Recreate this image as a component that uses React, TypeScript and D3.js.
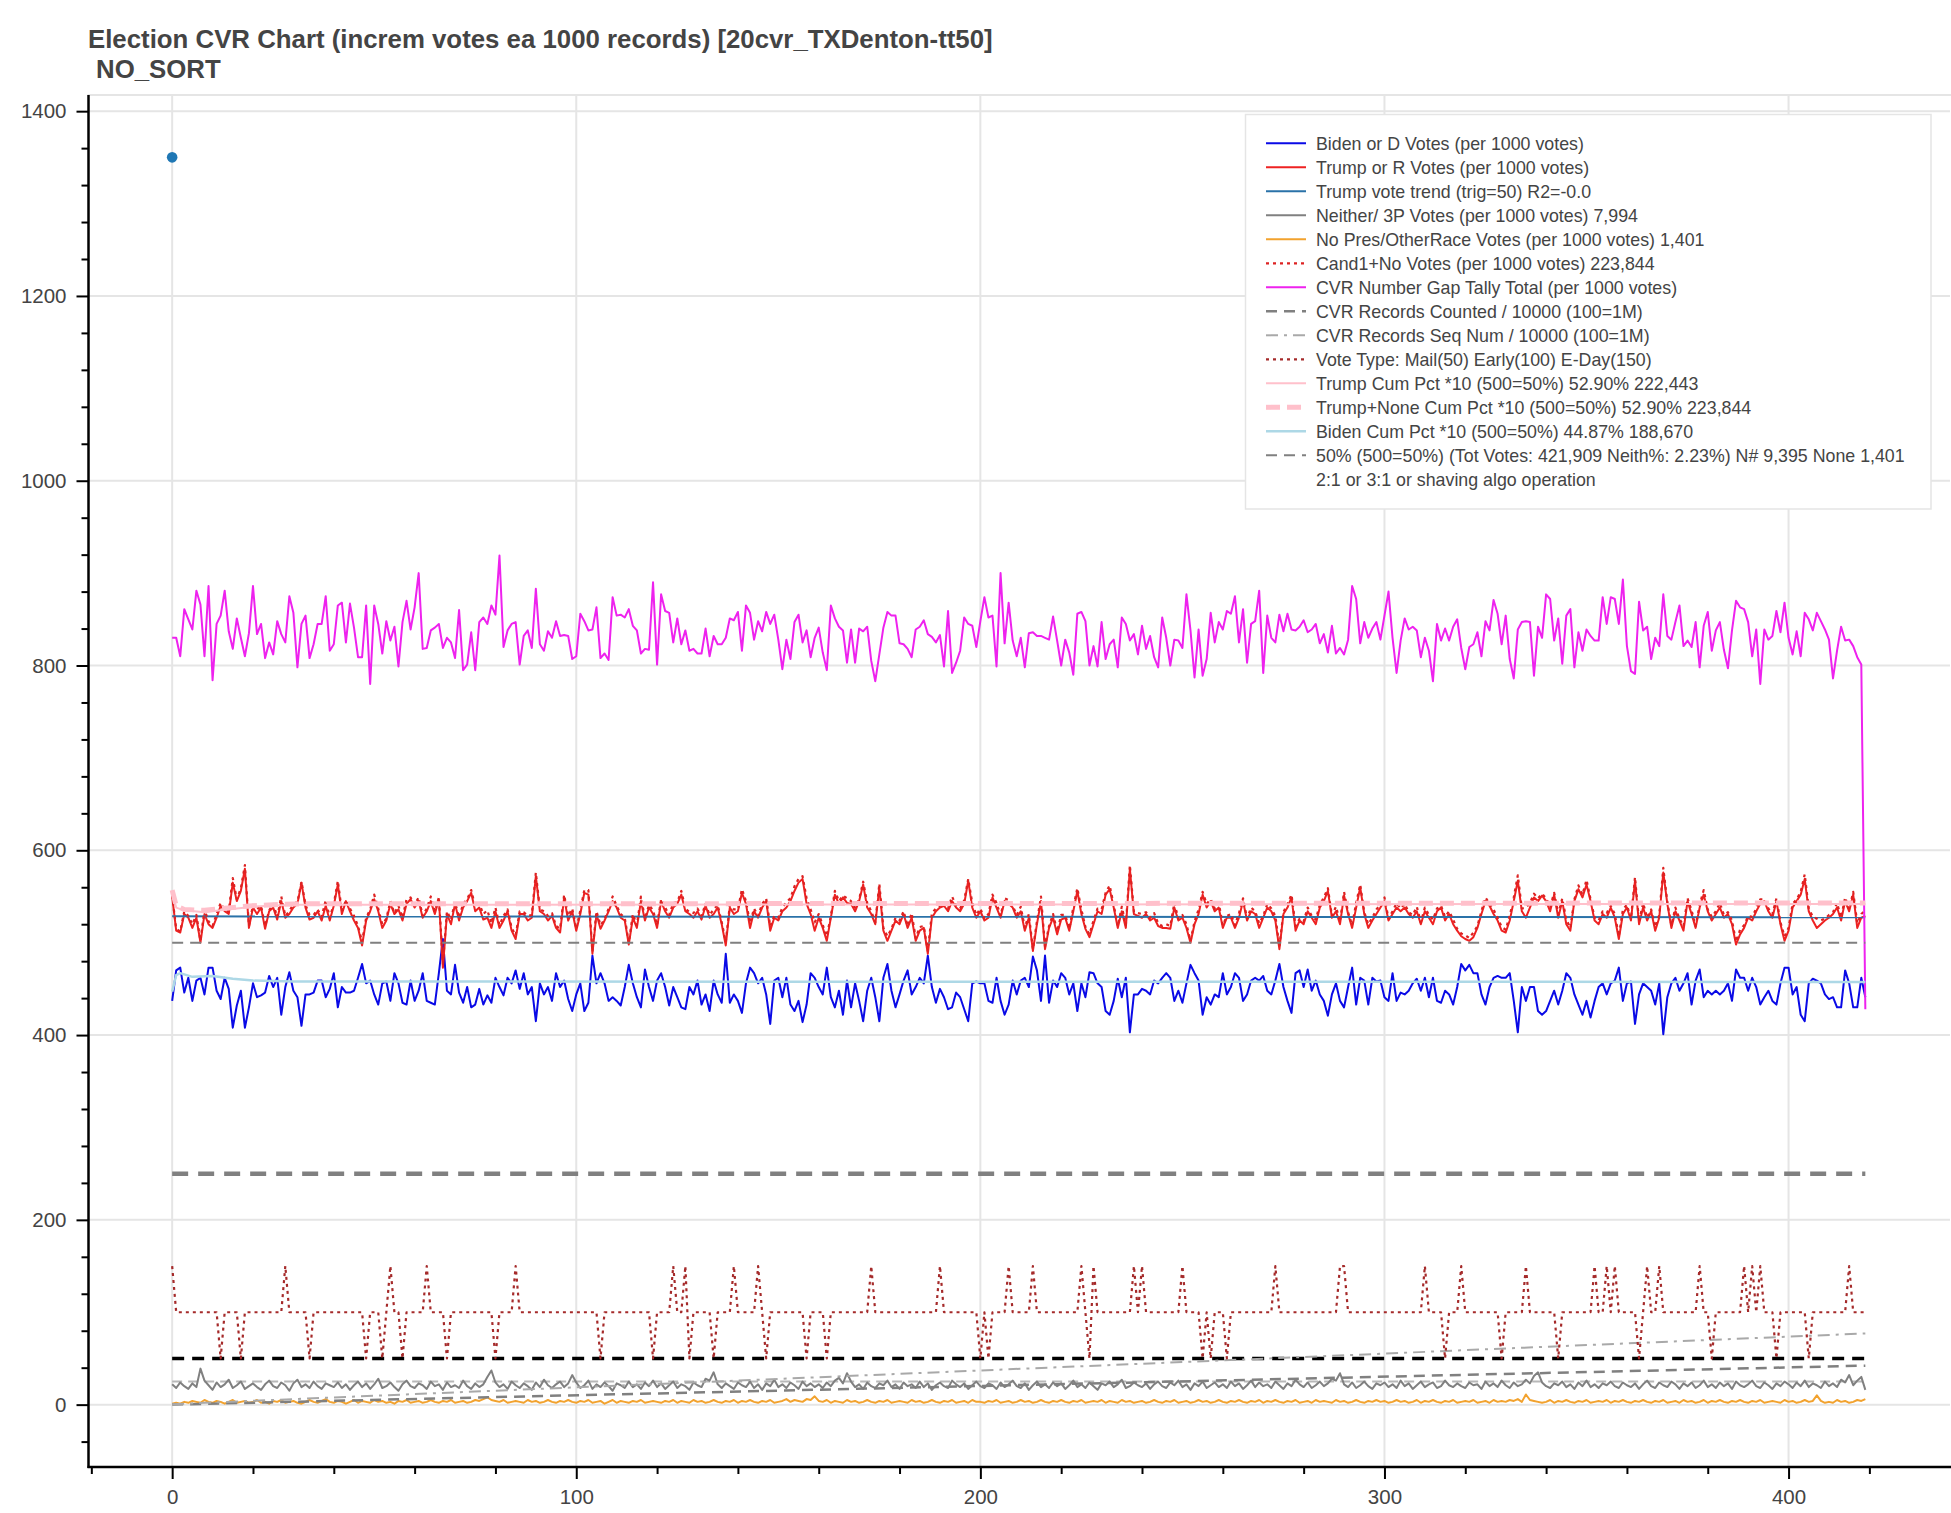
import { useEffect, useRef } from "react";
import * as d3 from "d3";

const W = 1951;
const H = 1513;
const FONT = "Liberation Sans, Arial, Helvetica, sans-serif";

const titleLines = [
  "Election CVR Chart (increm votes ea 1000 records) [20cvr_TXDenton-tt50]",
  "NO_SORT",
];

// CVR number gap tally (magenta), one value per 1000-record chunk
const gapTally = [
  830, 830, 810, 861, 850, 839, 881, 866, 810, 886,
  784, 845, 854, 881, 837, 818, 851, 830, 810, 835,
  886, 834, 845, 808, 825, 812, 848, 834, 825, 875,
  857, 798, 845, 854, 808, 823, 845, 845, 875, 816,
  823, 865, 868, 825, 867, 841, 809, 809, 865, 780,
  865, 845, 813, 848, 827, 842, 799, 847, 870, 839,
  863, 900, 818, 819, 838, 841, 845, 819, 830, 825,
  808, 860, 795, 801, 836, 795, 847, 852, 845, 865,
  855, 919, 820, 838, 845, 847, 801, 832, 838, 819,
  883, 823, 816, 837, 830, 848, 832, 833, 832, 807,
  810, 856, 848, 838, 839, 863, 808, 813, 806, 874,
  854, 855, 852, 861, 843, 838, 813, 818, 817, 890,
  801, 877, 859, 857, 825, 851, 823, 838, 816, 818,
  813, 813, 840, 810, 832, 823, 823, 830, 851, 849,
  858, 816, 865, 857, 828, 848, 837, 858, 845, 855,
  828, 796, 828, 807, 847, 855, 825, 838, 809, 830,
  841, 814, 795, 865, 851, 842, 838, 803, 839, 803,
  840, 837, 842, 805, 783, 812, 841, 858, 854, 854,
  824, 823, 818, 809, 839, 842, 849, 834, 831, 825,
  833, 799, 859, 792, 803, 816, 852, 845, 843, 820,
  848, 874, 852, 854, 799, 900, 824, 868, 827, 810,
  830,
  798, 835, 836, 832, 832, 830, 828, 853, 827, 800,
  828, 814, 790, 856, 858, 848, 800, 821, 799, 847,
  807, 823, 828, 798, 852, 845, 827, 834, 812, 843,
  818, 832, 809, 798, 852, 830, 800, 828, 827, 819,
  877, 838, 787, 839, 789, 807, 857, 825, 847, 839,
  859, 856, 875, 825, 861, 803, 845, 848, 881, 792,
  854, 830, 825, 855, 837, 856, 839, 838, 842, 849,
  836, 839, 845, 824, 834, 814, 843, 813, 819, 812,
  828, 886, 872, 824, 847, 830, 840, 847, 828, 854,
  880, 830, 792, 827, 851, 839, 842, 838, 809, 830,
  816, 783, 845, 827, 840, 827, 842, 850, 819, 796,
  820, 823, 836, 810, 848, 838, 871, 856, 823, 854,
  807, 786, 839, 847, 848, 847, 789, 842, 830, 877,
  872, 827, 851, 802, 854, 861, 798, 836, 816, 839,
  832, 827, 827, 874, 845, 874, 872, 845, 893, 821,
  794, 791, 869, 838, 842, 807, 830, 821, 877, 832,
  828, 847, 865, 821, 827, 820, 847, 798, 843, 858,
  816, 838, 847, 817, 797, 838, 870, 863, 861, 847,
  810, 839, 780, 839, 828, 832, 859, 836, 868, 830,
  812, 837, 810, 857, 850, 838, 857, 848, 839, 828,
  786, 816, 842, 827, 828, 821, 809, 801,
  428,
];

// Trump or R votes per 1000 votes
const trumpVotes = [
  550, 513, 511, 531, 527, 516, 527, 500, 531, 520,
  516, 527, 540, 534, 531, 565, 545, 556, 580, 516,
  538, 531, 538, 515, 534, 538, 525, 545, 527, 531,
  538, 542, 565, 538, 525, 527, 534, 524, 540, 524,
  540, 563, 531, 545, 534, 524, 516, 497, 524, 534,
  547, 534, 516, 524, 542, 531, 536, 524, 542, 547,
  538, 545, 527, 534, 545, 531, 547, 473, 531, 520,
  542, 524, 538, 545, 554, 534, 538, 525, 527, 516,
  534, 516, 524, 534, 513, 504, 531, 531, 524, 527,
  572, 534, 531, 524, 529, 516, 511, 549, 524, 534,
  513, 531, 554, 552, 488, 531, 515, 524, 534, 545,
  538, 527, 524, 498, 527, 516, 545, 524, 538, 531,
  516, 545, 534, 527, 538, 542, 552, 534, 531, 527,
  534, 525, 540, 527, 531, 538, 520, 497, 538, 531,
  534, 554, 542, 516, 534, 527, 538, 545, 513, 527,
  524, 534, 538, 545, 556, 565, 569, 542, 531, 513,
  527, 516, 502, 527, 552, 542, 549, 543, 542, 534,
  545, 563, 538, 531, 520, 560, 513, 502, 513, 524,
  520, 531, 516, 527, 502, 513, 516, 488, 527, 534,
  538, 540, 534, 545, 538, 534, 542, 567, 538, 527,
  534, 524, 527, 549, 538, 527, 545, 542, 538, 527,
  534,
  513, 527, 491, 520, 545, 493, 516, 527, 509, 525,
  527, 513, 534, 556, 531, 515, 506, 520, 534, 531,
  552, 558, 538, 516, 534, 516, 580, 531, 529, 527,
  531, 524, 527, 518, 516, 516, 515, 538, 524, 527,
  516, 500, 520, 531, 552, 538, 545, 534, 538, 516,
  527, 527, 516, 527, 545, 524, 534, 531, 516, 527,
  538, 534, 524, 493, 531, 538, 549, 513, 524, 520,
  534, 527, 520, 538, 545, 556, 527, 534, 520, 551,
  531, 516, 538, 560, 531, 516, 524, 531, 538, 545,
  524, 531, 538, 534, 538, 531, 527, 534, 520, 534,
  527, 520, 534, 538, 524, 531, 520, 513, 507, 504,
  502, 506, 516, 531, 545, 540, 531, 524, 513, 511,
  524, 545, 567, 534, 527, 538, 549, 545, 551, 545,
  534, 552, 527, 545, 520, 513, 545, 558, 549, 563,
  545, 524, 520, 531, 527, 538, 527, 504, 531, 538,
  524, 567, 520, 538, 524, 534, 513, 527, 576, 542,
  516, 534, 524, 513, 545, 531, 516, 538, 552, 534,
  524, 531, 538, 527, 531, 520, 498, 509, 516, 527,
  524, 534, 542, 545, 534, 527, 545, 520, 502, 513,
  538, 545, 552, 569, 534, 524, 516, 520, 524, 527,
  531, 538, 524, 545, 534, 552, 516, 527,
  529,
];

// Biden or D votes per 1000 votes
const bidenVotes = [
  437, 470, 473, 446, 462, 437, 459, 462, 444, 473,
  473, 448, 439, 462, 450, 408, 432, 448, 408, 430,
  456, 441, 443, 446, 464, 452, 462, 422, 452, 468,
  448, 441, 410, 444, 444, 446, 459, 459, 441, 450,
  467, 430, 452, 446, 446, 448, 462, 477, 456, 459,
  444, 433, 456, 458, 437, 467, 456, 435, 433, 459,
  437, 448, 467, 437, 435, 433, 467, 504, 448, 444,
  476, 446, 435, 452, 430, 433, 450, 433, 443, 435,
  462, 452, 443, 462, 456, 470, 450, 467, 444, 452,
  415, 456, 444, 452, 437, 467, 452, 459, 439, 426,
  444, 456, 426, 435, 486, 456, 467, 456, 437, 441,
  437, 432, 452, 476, 456, 441, 430, 471, 452, 437,
  459, 467, 452, 432, 452, 441, 430, 428, 452, 444,
  459, 433, 444, 426, 459, 444, 435, 488, 435, 444,
  437, 424, 456, 473, 467, 456, 462, 444, 412, 459,
  462, 441, 462, 433, 426, 437, 414, 433, 467, 462,
  452, 444, 473, 441, 430, 448, 422, 459, 430, 456,
  437, 415, 448, 462, 441, 415, 462, 477, 448, 430,
  444, 459, 470, 444, 452, 462, 456, 486, 452, 435,
  450, 441, 428, 430, 446, 441, 428, 415, 456, 458,
  456, 456, 437, 435, 462, 437, 422, 433, 459, 444,
  459,
  462, 452, 485, 470, 437, 486, 435, 459, 452, 467,
  462, 444, 456, 426, 456, 441, 468, 467, 456, 452,
  426, 422, 437, 461, 441, 462, 403, 444, 444, 450,
  448, 444, 459, 456, 462, 467, 462, 437, 448, 435,
  456, 476, 467, 459, 422, 441, 433, 444, 441, 467,
  444, 452, 467, 462, 437, 444, 459, 462, 459, 464,
  448, 444, 459, 477, 452, 437, 424, 467, 470, 452,
  471, 448, 459, 444, 437, 421, 444, 456, 437, 430,
  452, 473, 433, 462, 459, 433, 462, 458, 459, 441,
  437, 467, 437, 446, 444, 448, 456, 461, 448, 462,
  441, 462, 437, 435, 448, 444, 433, 452, 477, 470,
  476, 467, 467, 444, 433, 452, 462, 464, 462, 462,
  467, 437, 403, 452, 437, 452, 452, 426, 422, 426,
  437, 448, 433, 448, 467, 462, 444, 433, 422, 437,
  419, 437, 452, 456, 444, 456, 459, 473, 437, 456,
  458, 412, 444, 456, 452, 448, 433, 456, 401, 441,
  456, 462, 448, 456, 467, 433, 459, 471, 441, 448,
  444, 448, 444, 448, 456, 437, 471, 462, 462, 448,
  462, 452, 433, 441, 448, 437, 433, 456, 473, 473,
  444, 452, 422, 415, 456, 461, 459, 456, 444, 439,
  441, 430, 430, 470, 456, 430, 430, 462,
  441,
];

// Neither / 3P votes per 1000 votes
const neitherVotes = [
  22, 18, 24, 20, 17, 23, 19, 39, 26, 21, 16, 24, 19, 22, 27, 18, 21, 25, 17, 20,
  23, 19, 16, 22, 26, 20, 18, 24, 21, 15, 23, 27, 19, 22, 18, 25, 20, 17, 23, 21,
  19, 24, 18, 22, 16, 21, 25, 19, 23, 17, 22, 28, 18, 20, 24, 19, 15, 22, 26, 20,
  18, 23, 21, 17, 25, 20, 22, 16, 24, 19, 21, 18, 26, 20, 17, 23, 19, 22, 30, 37,
  24, 19, 22, 17, 25, 21, 18, 23, 20, 16, 24, 19, 27, 21, 18, 22, 25, 19, 23, 32,
  24, 18, 21, 26, 17, 22, 19, 24, 20, 15, 23, 21, 18, 25, 19, 22, 17, 24, 20, 26,
  19, 23, 17, 21, 25, 18, 22, 20, 16, 24, 21, 19, 28, 26, 35, 22, 18, 23, 20, 17,
  24, 21, 19, 25, 18, 22, 16, 23, 20, 27, 19, 22, 18, 24, 21, 17, 25, 20, 23, 19,
  22, 18, 24, 20, 26, 29, 23, 34, 25, 19, 22, 17, 24, 20, 18, 23, 21, 26, 19, 22,
  17, 24, 20, 22, 18, 25, 19, 23, 16, 21, 24, 20, 18, 26, 22, 19, 23, 17, 21, 25,
  20, 18, 23, 21, 17, 24, 19, 22, 26, 20, 18, 23, 16, 21, 25, 19, 22, 18, 24, 20,
  23, 17, 21, 26, 19, 22, 18, 24, 20, 16, 23, 21, 25, 19, 22, 27, 18, 20, 24, 21,
  19, 23, 17, 22, 25, 20, 18, 24, 21, 26, 19, 22, 16, 23, 20, 25, 18, 21, 24, 19,
  22, 18, 25, 20, 23, 17, 21, 26, 19, 24, 20, 22, 18, 25, 21, 17, 23, 20, 27, 22,
  19, 24, 18, 21, 25, 20, 23, 28, 26, 34, 22, 19, 24, 18, 21, 25, 20, 17, 23, 21,
  24, 19, 22, 18, 26, 20, 23, 17, 21, 25, 19, 22, 24, 18, 20, 26, 21, 19, 23, 20,
  18, 24, 21, 22, 17, 25, 20, 23, 19, 26, 21, 18, 24, 20, 22, 27, 23, 31, 35, 24,
  20, 18, 23, 21, 25, 19, 22, 17, 24, 20, 26, 19, 22, 18, 23, 21, 25, 20, 18, 24,
  21, 19, 23, 17, 22, 26, 20, 18, 24, 21, 19, 25, 22, 17, 23, 20, 24, 18, 21, 26,
  19, 22, 18, 24, 20, 23, 17, 25, 21, 19, 22, 26, 20, 18, 24, 21, 17, 23, 20, 25,
  22, 18, 24, 20, 26, 19, 23, 21, 18, 25, 20, 23, 19, 27, 24, 32, 21, 26, 30, 16,
];

// No Pres / other race votes per 1000 votes
const noPresVotes = [
  1, 2, 1, 3, 2, 4, 3, 2, 5, 3, 2, 4, 3, 1, 3, 5, 2, 3, 4, 2,
  3, 5, 2, 3, 1, 4, 3, 5, 2, 3, 4, 2, 1, 3, 5, 3, 2, 4, 6, 3,
  2, 4, 3, 1, 3, 5, 2, 4, 3, 2, 5, 3, 4, 2, 3, 1, 4, 3, 5, 2,
  3, 4, 2, 3, 5, 3, 2, 4, 3, 5, 2, 3, 4, 2, 3, 5, 4, 6, 8, 5,
  4, 3, 5, 2, 3, 4, 3, 2, 5, 3, 4, 2, 3, 5, 3, 2, 4, 3, 5, 3,
  2, 4, 3, 5, 2, 3, 4, 1, 3, 5, 2, 4, 3, 2, 4, 3, 5, 2, 3, 4,
  3, 2, 4, 3, 5, 2, 4, 3, 2, 5, 3, 4, 2, 3, 5, 3, 2, 4, 3, 5,
  2, 4, 3, 5, 3, 2, 4, 3, 5, 2, 3, 4, 6, 3, 5, 4, 3, 6, 5, 9,
  4, 3, 5, 2, 4, 3, 2, 5, 3, 4, 2, 3, 5, 3, 2, 4, 3, 5, 2, 3,
  4, 3, 2, 5, 3, 4, 2, 3, 5, 3, 2, 4, 3, 5, 2, 3, 4, 2, 5, 3,
  3, 2, 4, 3, 5, 2, 3, 4, 2, 3, 5, 3, 4, 2, 3, 5, 3, 2, 4, 3,
  5, 3, 2, 4, 3, 5, 2, 3, 4, 3, 5, 2, 4, 3, 2, 5, 3, 4, 2, 3,
  4, 2, 3, 5, 3, 2, 4, 3, 5, 2, 3, 4, 2, 3, 5, 3, 4, 2, 3, 5,
  3, 2, 4, 3, 5, 3, 2, 4, 3, 5, 2, 4, 3, 5, 3, 2, 4, 3, 5, 2,
  3, 4, 2, 5, 3, 4, 3, 2, 5, 3, 4, 2, 3, 5, 3, 2, 4, 3, 5, 3,
  4, 2, 3, 5, 3, 4, 2, 3, 5, 2, 4, 3, 5, 3, 2, 4, 3, 5, 2, 3,
  4, 3, 5, 2, 3, 4, 2, 5, 3, 4, 3, 5, 4, 6, 3, 11, 5, 4, 3, 2,
  3, 5, 2, 4, 3, 5, 3, 2, 4, 3, 5, 2, 3, 4, 3, 5, 2, 4, 3, 5,
  3, 2, 4, 3, 5, 3, 2, 4, 3, 5, 2, 3, 4, 2, 5, 3, 4, 2, 3, 5,
  2, 4, 3, 5, 3, 2, 4, 3, 5, 3, 2, 4, 3, 5, 2, 3, 4, 3, 2, 5,
  3, 4, 2, 3, 5, 3, 4, 10, 4, 2, 3, 2, 5, 3, 4, 2, 3, 5, 4, 6,
];

// Vote type: Mail(50) Early(100) E-Day(150)
const voteType = [
  150, 100, 100, 100, 100, 100, 100, 100, 100, 100, 100, 100, 50, 100, 100, 100, 100, 50, 100, 100,
  100, 100, 100, 100, 100, 100, 100, 100, 150, 100, 100, 100, 100, 100, 50, 100, 100, 100, 100, 100,
  100, 100, 100, 100, 100, 100, 100, 100, 50, 100, 100, 100, 50, 100, 150, 100, 100, 50, 100, 100,
  100, 100, 100, 150, 100, 100, 100, 100, 50, 100, 100, 100, 100, 100, 100, 100, 100, 100, 100, 100,
  50, 100, 100, 100, 100, 150, 100, 100, 100, 100, 100, 100, 100, 100, 100, 100, 100, 100, 100, 100,
  100, 100, 100, 100, 100, 100, 50, 100, 100, 100, 100, 100, 100, 100, 100, 100, 100, 100, 100, 50,
  100, 100, 100, 100, 150, 100, 100, 150, 50, 100, 100, 100, 100, 100, 50, 100, 100, 100, 100, 150,
  100, 100, 100, 100, 100, 150, 100, 50, 100, 100, 100, 100, 100, 100, 100, 100, 100, 50, 100, 100,
  100, 100, 50, 100, 100, 100, 100, 100, 100, 100, 100, 100, 100, 150, 100, 100, 100, 100, 100, 100,
  100, 100, 100, 100, 100, 100, 100, 100, 100, 100, 150, 100, 100, 100, 100, 100, 100, 100, 100, 100,
  50, 100, 50, 100, 100, 100, 100, 150, 100, 100, 100, 100, 100, 150, 100, 100, 100, 100, 100, 100,
  100, 100, 100, 100, 100, 150, 100, 50, 150, 100, 100, 100, 100, 100, 100, 100, 100, 100, 150, 100,
  150, 100, 100, 100, 100, 100, 100, 100, 100, 100, 150, 100, 100, 100, 100, 50, 100, 50, 100, 100,
  100, 50, 100, 100, 100, 100, 100, 100, 100, 100, 100, 100, 100, 150, 100, 100, 100, 100, 100, 100,
  100, 100, 100, 100, 100, 100, 100, 100, 100, 150, 150, 100, 100, 100, 100, 100, 100, 100, 100, 100,
  100, 100, 100, 100, 100, 100, 100, 100, 100, 100, 150, 100, 100, 100, 100, 50, 100, 100, 100, 150,
  100, 100, 100, 100, 100, 100, 100, 100, 100, 50, 100, 100, 100, 100, 100, 150, 100, 100, 100, 100,
  100, 100, 100, 50, 100, 100, 100, 100, 100, 100, 100, 100, 150, 100, 100, 150, 100, 150, 100, 100,
  100, 100, 100, 50, 100, 150, 100, 100, 150, 100, 100, 100, 100, 100, 100, 100, 100, 100, 150, 100,
  100, 50, 100, 100, 100, 100, 100, 100, 100, 150, 100, 150, 100, 150, 100, 100, 100, 50, 100, 100,
  100, 100, 100, 100, 100, 50, 100, 100, 100, 100, 100, 100, 100, 100, 100, 150, 100, 100, 100, 100,
];

// smooth series, given by their visible vertices (x = chunk index)
const trendX = [0, 419];
const trendVal = [528.5, 527.5];
const countedX = [0, 419];
const countedVal = [0.1, 42.2];
const seqX = [0, 419];
const seqVal = [0.5, 77];
const trumpCumX = [0, 1, 3, 8, 12, 20, 30, 419];
const trumpCumVal = [555, 538, 535, 533, 535, 539, 541, 542];
const trumpNoneCumVal = [557, 540, 536, 535, 537, 540, 542, 543];
const bidenCumX = [0, 1, 2, 5, 10, 15, 20, 30, 419];
const bidenCumVal = [447, 465, 467, 463, 464, 461, 459, 458, 457.5];
const refX = [0, 419];
const fiftyPctLevel = 500;
const ratioLevel = 250;
const mailLevel = 50;
const neitherRefLevel = 25;
const outlierX = 0;
const outlierVal = 1350;

const legendLabels = [
  "Biden or D Votes (per 1000 votes)",
  "Trump or R Votes (per 1000 votes)",
  "Trump vote trend (trig=50) R2=-0.0",
  "Neither/ 3P Votes (per 1000 votes) 7,994",
  "No Pres/OtherRace Votes (per 1000 votes) 1,401",
  "Cand1+No Votes (per 1000 votes) 223,844",
  "CVR Number Gap Tally Total (per 1000 votes)",
  "CVR Records Counted / 10000 (100=1M)",
  "CVR Records Seq Num / 10000 (100=1M)",
  "Vote Type: Mail(50) Early(100) E-Day(150)",
  "Trump Cum Pct *10 (500=50%) 52.90% 222,443",
  "Trump+None Cum Pct *10 (500=50%) 52.90% 223,844",
  "Biden Cum Pct *10 (500=50%) 44.87% 188,670",
  "50% (500=50%) (Tot Votes: 421,909 Neith%: 2.23%) N# 9,395 None 1,401",
  "2:1 or 3:1 or shaving algo operation",
];

type Style = { color: string; width: number; dash: string | null };
const legendStyles: Style[] = [
  { color: "#0a0ae6", width: 2, dash: null },
  { color: "#ee2222", width: 2, dash: null },
  { color: "#2a72a8", width: 2, dash: null },
  { color: "#808080", width: 2, dash: null },
  { color: "#f2a22e", width: 2, dash: null },
  { color: "#dd2222", width: 2.2, dash: "3 4" },
  { color: "#ee22ee", width: 2, dash: null },
  { color: "#808080", width: 2.5, dash: "11 7" },
  { color: "#a9a9a9", width: 2, dash: "12 6 3 6" },
  { color: "#a52a2a", width: 2.2, dash: "3 4" },
  { color: "#ffc0cb", width: 2, dash: null },
  { color: "#ffc0cb", width: 5, dash: "14 7" },
  { color: "#add8e6", width: 2.5, dash: null },
  { color: "#808080", width: 2, dash: "11 7" },
  { color: "none", width: 0, dash: null },
];

export default function App() {
  const ref = useRef<SVGSVGElement | null>(null);

  useEffect(() => {
    const svg = d3.select(ref.current);
    svg.selectAll("*").remove();

    const frame = { left: 87.5, right: 1950, top: 95, bottom: 1467 };
    const x = d3.scaleLinear().domain([-20.95, 439.95]).range([frame.left, frame.right]);
    const y = d3.scaleLinear().domain([-67.5, 1417.5]).range([frame.bottom, frame.top]);

    svg.append("rect").attr("width", W).attr("height", H).attr("fill", "#fff");

    // grid
    const grid = svg.append("g").attr("stroke", "#e5e5e5").attr("stroke-width", 2);
    [0, 100, 200, 300, 400].forEach(v =>
      grid.append("line").attr("x1", x(v)).attr("x2", x(v)).attr("y1", frame.top).attr("y2", frame.bottom)
    );
    d3.range(0, 1401, 200).forEach(v =>
      grid.append("line").attr("x1", frame.left).attr("x2", frame.right).attr("y1", y(v)).attr("y2", y(v))
    );
    grid.append("line").attr("x1", frame.left).attr("x2", W).attr("y1", frame.top).attr("y2", frame.top);

    const idxLine = d3.line<number>().x((_, i) => x(i)).y(d => y(d));
    const xyLine = (xs: number[], vs: number[]) =>
      d3.line<number>().x((_, i) => x(xs[i])).y(d => y(d))(vs);

    const draw = (d: string | null, s: Style) => {
      const p = svg.append("path").attr("d", d).attr("fill", "none")
        .attr("stroke", s.color).attr("stroke-width", s.width)
        .attr("stroke-linejoin", "round");
      if (s.dash) p.attr("stroke-dasharray", s.dash);
      return p;
    };

    // constant reference lines
    draw(xyLine(refX, refX.map(() => ratioLevel)), { color: "#808080", width: 4.5, dash: "16 10" });
    draw(xyLine(refX, refX.map(() => mailLevel)), { color: "#000", width: 3.5, dash: "12 8" });
    draw(xyLine(refX, refX.map(() => neitherRefLevel)), { color: "#b8b8b8", width: 2, dash: "10 6" });

    const st = legendStyles;
    draw(idxLine(bidenVotes), st[0]);
    draw(idxLine(trumpVotes), st[1]);
    draw(xyLine(trendX, trendVal), st[2]);
    draw(idxLine(neitherVotes), st[3]);
    draw(idxLine(noPresVotes), st[4]);
    // Cand1+No = Trump votes + no-pres votes (as the legend total says)
    draw(idxLine(trumpVotes.map((v, i) => v + noPresVotes[i])), st[5]);
    draw(idxLine(gapTally), st[6]);
    draw(xyLine(countedX, countedVal), st[7]);
    draw(xyLine(seqX, seqVal), st[8]);
    draw(idxLine(voteType), st[9]);
    draw(xyLine(trumpCumX, trumpCumVal), st[10]);
    draw(xyLine(trumpCumX, trumpNoneCumVal), st[11]);
    draw(xyLine(bidenCumX, bidenCumVal), st[12]);
    draw(xyLine(refX, refX.map(() => fiftyPctLevel)), st[13]);

    svg.append("circle").attr("cx", x(outlierX)).attr("cy", y(outlierVal)).attr("r", 5.3).attr("fill", "#1f77b4");

    // axes
    const styleAxis = (g: d3.Selection<SVGGElement, unknown, null, undefined>) => {
      g.select(".domain").remove();
      g.attr("font-family", FONT).attr("font-size", 20.5);
      g.selectAll("line").attr("stroke", "#000").attr("stroke-width", 2);
      g.selectAll("text").attr("fill", "#444");
    };
    const yMajor = d3.range(0, 1401, 200);
    const yMinor = d3.range(-40, 1401, 40).filter(v => v % 200 !== 0);
    const xMajor = [0, 100, 200, 300, 400];
    const xMinor = d3.range(-20, 421, 20).filter(v => v % 100 !== 0);

    const axX = frame.left + 1;
    svg.append("g").attr("transform", `translate(${axX},0)`)
      .call(d3.axisLeft(y).tickValues(yMinor).tickSize(7).tickFormat(() => "")).call(styleAxis);
    svg.append("g").attr("transform", `translate(${axX},0)`)
      .call(d3.axisLeft(y).tickValues(yMajor).tickSize(12).tickPadding(10).tickFormat(d3.format("d"))).call(styleAxis);
    svg.append("g").attr("transform", `translate(0,${frame.bottom})`)
      .call(d3.axisBottom(x).tickValues(xMinor).tickSize(7).tickFormat(() => "")).call(styleAxis);
    svg.append("g").attr("transform", `translate(0,${frame.bottom})`)
      .call(d3.axisBottom(x).tickValues(xMajor).tickSize(12).tickPadding(10).tickFormat(d3.format("d"))).call(styleAxis);

    svg.append("line").attr("x1", axX).attr("x2", axX).attr("y1", frame.top).attr("y2", frame.bottom + 1)
      .attr("stroke", "#000").attr("stroke-width", 2.5);
    svg.append("line").attr("x1", frame.left).attr("x2", W).attr("y1", frame.bottom).attr("y2", frame.bottom)
      .attr("stroke", "#000").attr("stroke-width", 2.5);

    // title
    svg.append("text").attr("x", 88).attr("y", 48).attr("font-family", FONT).attr("font-weight", "bold")
      .attr("font-size", 25.8).attr("fill", "#444").text(titleLines[0]);
    svg.append("text").attr("x", 96).attr("y", 78).attr("font-family", FONT).attr("font-weight", "bold")
      .attr("font-size", 25.8).attr("fill", "#444").text(titleLines[1]);

    // legend
    const lg = svg.append("g");
    lg.append("rect").attr("x", 1245.5).attr("y", 114.5).attr("width", 685.5).attr("height", 394.5)
      .attr("fill", "#fff").attr("stroke", "#e5e5e5").attr("stroke-width", 1.5);
    legendLabels.forEach((label, i) => {
      const cy = 143.3 + i * 24;
      const s = legendStyles[i];
      if (s.color !== "none") {
        const l = lg.append("line").attr("x1", 1266).attr("x2", 1306).attr("y1", cy).attr("y2", cy)
          .attr("stroke", s.color).attr("stroke-width", s.width);
        if (s.dash) l.attr("stroke-dasharray", s.dash);
      }
      lg.append("text").attr("x", 1316).attr("y", cy).attr("dy", "0.36em")
        .attr("font-family", FONT).attr("font-size", 17.8).attr("fill", "#444").text(label);
    });
  }, []);

  return (
    <div style={{ position: "absolute", left: 0, top: 0 }}>
      <svg ref={ref} width={W} height={H} style={{ display: "block" }} />
    </div>
  );
}
